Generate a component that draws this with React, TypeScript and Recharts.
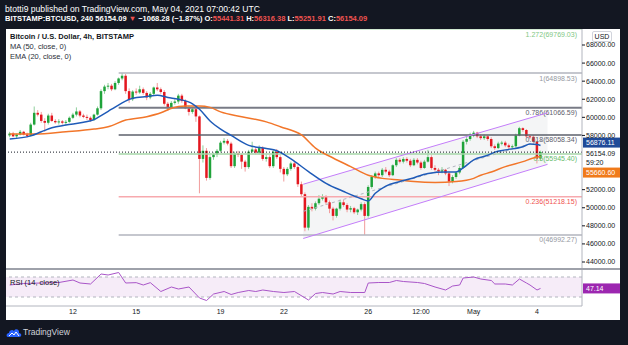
import React from 'react'
import { Area, Bar, ComposedChart, Line, ReferenceArea, ReferenceLine, XAxis, YAxis } from 'recharts'

const FONT = "'Liberation Sans', Arial, sans-serif"
const DARK = '#131722'
const UP = '#1fa33a'
const DOWN = '#e3171f'
const UP_WICK = '#8fcf9c'
const DOWN_WICK = '#f19c9c'
const EMA_COLOR = '#1f5bb8'
const MA_COLOR = '#f2762a'
const RSI_COLOR = '#a955c8'
const CHANNEL_COLOR = '#c47dfa'

// 4h candles from Apr 9 00:00 to May 4 04:00 UTC, prices in thousands of USD
const opens = [
  58.0, 58.2, 57.9, 58.1, 58.4, 58.1,
  57.95, 59.2, 60.5, 60.3, 59.6, 59.4,
  60.2, 59.6, 59.45, 59.55, 59.4, 59.5,
  59.95, 60.3, 60.65, 60.2, 60.05, 59.95,
  59.7, 60.3, 61.0, 62.9, 63.4, 63.5,
  63.1, 63.8, 64.3, 64.6, 62.9, 62.0,
  62.85, 62.75, 63.1, 62.7, 62.2, 62.6,
  63.3, 63.1, 62.8, 61.5, 61.0, 61.6,
  61.75, 62.4, 61.8, 61.0, 60.6, 60.9,
  60.1, 55.4, 56.3, 53.3, 55.6, 55.9,
  56.3, 57.2, 57.4, 57.1, 54.6, 56.0,
  55.85, 55.1, 54.5, 56.2, 56.45, 56.1,
  56.6, 55.4, 55.6, 54.6, 56.2, 55.6,
  54.3, 53.7, 54.3, 54.9, 54.5, 52.6,
  51.5, 47.8, 50.1, 49.9, 50.5, 51.0,
  51.3, 50.6, 49.9, 49.1, 49.9, 50.6,
  50.3, 49.8, 49.95, 49.5, 49.8, 50.4,
  49.1, 52.3, 53.4, 53.8, 53.6, 54.2,
  54.0, 53.6, 54.7, 55.3, 55.1, 55.4,
  55.2, 54.7, 55.3, 55.0, 54.4, 55.1,
  55.6, 54.4, 54.2, 54.0, 54.2, 53.8,
  52.9, 53.4, 53.9, 54.4, 57.3, 57.6,
  58.0, 58.3, 57.9, 57.7, 57.9, 57.6,
  56.8, 56.6, 57.1, 57.2, 56.9, 56.7,
  56.8, 58.0, 58.8, 58.6, 57.9, 57.85,
  57.3, 55.441,
]
const highs = [
  58.4, 58.4, 58.2, 58.6, 58.5, 58.3,
  59.4, 61.2, 60.8, 60.6, 59.9, 60.4,
  60.5, 59.8, 59.8, 59.7, 59.7, 60.1,
  60.5, 61.1, 60.8, 60.4, 60.3, 60.1,
  60.4, 61.2, 63.1, 63.6, 63.8, 63.7,
  64.0, 64.4, 64.9, 64.8, 63.2, 63.0,
  63.2, 63.5, 63.3, 62.9, 62.8, 63.4,
  63.8, 63.3, 63.0, 61.7, 61.8, 62.0,
  62.6, 62.6, 62.0, 61.3, 61.1, 61.1,
  60.2, 56.9, 56.6, 55.8, 56.1, 56.5,
  57.4, 57.7, 57.6, 57.3, 56.2, 56.3,
  56.0, 55.3, 56.4, 57.3, 56.7, 56.9,
  56.8, 55.9, 55.8, 56.4, 56.5, 55.8,
  54.5, 54.5, 55.1, 55.2, 54.7, 52.9,
  51.7, 50.3, 50.5, 50.7, 51.4, 51.5,
  51.4, 50.8, 50.1, 50.0, 50.9, 50.9,
  50.5, 50.2, 50.1, 49.9, 50.6, 50.6,
  52.5, 53.6, 54.0, 54.0, 54.4, 54.5,
  54.2, 54.8, 55.5, 55.5, 55.6, 55.6,
  55.4, 55.5, 55.5, 55.2, 55.3, 56.4,
  55.8, 54.7, 54.4, 54.5, 54.3, 54.0,
  53.6, 54.0, 54.6, 57.5, 57.9, 58.3,
  58.5, 58.4, 58.1, 58.1, 58.0, 57.8,
  57.0, 57.3, 57.4, 57.4, 57.1, 57.0,
  58.2, 58.95, 58.9, 58.7, 58.1, 58.0,
  57.4, 56.316,
]
const lows = [
  57.8, 57.8, 57.7, 58.0, 58.0, 57.8,
  57.9, 59.1, 60.1, 59.4, 58.4, 59.2,
  59.5, 59.3, 59.2, 59.2, 59.1, 59.4,
  59.8, 60.1, 60.0, 59.9, 59.7, 59.5,
  59.6, 60.2, 60.8, 62.6, 63.1, 62.9,
  63.0, 63.6, 64.1, 62.6, 61.6, 61.8,
  62.5, 62.6, 62.5, 61.9, 62.0, 62.4,
  62.9, 62.6, 61.3, 60.7, 60.9, 61.4,
  61.5, 61.6, 60.9, 60.2, 60.4, 59.5,
  51.6, 55.0, 53.0, 53.1, 55.3, 55.6,
  56.1, 57.0, 56.9, 54.4, 54.4, 55.6,
  54.3, 54.0, 54.3, 56.0, 55.9, 55.9,
  55.2, 55.1, 54.4, 54.4, 55.4, 53.9,
  52.9, 53.5, 54.1, 54.3, 52.3, 51.3,
  47.4, 47.5, 49.6, 49.7, 50.3, 50.8,
  50.3, 49.4, 48.6, 48.9, 49.7, 50.1,
  49.5, 49.5, 49.3, 49.2, 49.6, 47.0,
  48.9, 52.1, 53.2, 53.3, 53.4, 53.8,
  53.4, 53.5, 54.5, 54.9, 54.9, 55.0,
  54.5, 54.6, 54.8, 54.2, 54.3, 55.0,
  54.2, 54.0, 53.6, 53.8, 53.6, 52.4,
  52.7, 53.2, 53.7, 54.3, 57.0, 57.4,
  57.8, 57.7, 57.5, 57.5, 57.4, 56.6,
  56.4, 56.5, 56.9, 56.7, 56.5, 56.5,
  56.6, 57.9, 58.4, 57.7, 57.6, 57.1,
  54.9, 55.252,
]
const closes = [
  58.2, 57.9, 58.1, 58.4, 58.1, 57.95,
  59.2, 60.5, 60.3, 59.6, 59.4, 60.2,
  59.6, 59.45, 59.55, 59.4, 59.5, 59.95,
  60.3, 60.65, 60.2, 60.05, 59.95, 59.7,
  60.3, 61.0, 62.9, 63.4, 63.5, 63.1,
  63.8, 64.3, 64.6, 62.9, 62.0, 62.85,
  62.75, 63.1, 62.7, 62.2, 62.6, 63.3,
  63.1, 62.8, 61.5, 61.0, 61.6, 61.75,
  62.4, 61.8, 61.0, 60.6, 60.9, 60.1,
  55.4, 56.3, 53.3, 55.6, 55.9, 56.3,
  57.2, 57.4, 57.1, 54.6, 56.0, 55.85,
  55.1, 54.5, 56.2, 56.45, 56.1, 56.6,
  55.4, 55.6, 54.6, 56.2, 55.6, 54.3,
  53.7, 54.3, 54.9, 54.5, 52.6, 51.5,
  47.8, 50.1, 49.9, 50.5, 51.0, 51.3,
  50.6, 49.9, 49.1, 49.9, 50.6, 50.3,
  49.8, 49.95, 49.5, 49.8, 50.4, 49.1,
  52.3, 53.4, 53.8, 53.6, 54.2, 54.0,
  53.6, 54.7, 55.3, 55.1, 55.4, 55.2,
  54.7, 55.3, 55.0, 54.4, 55.1, 55.6,
  54.4, 54.2, 54.0, 54.2, 53.8, 52.9,
  53.4, 53.9, 54.4, 57.3, 57.6, 58.0,
  58.3, 57.9, 57.7, 57.9, 57.6, 56.8,
  56.6, 57.1, 57.2, 56.9, 56.7, 56.8,
  58.0, 58.8, 58.6, 57.9, 57.85, 57.3,
  55.441, 56.154,
]

// indicator lines: [candle index, value]
const emaPoints: [number, number][] = [
  [0, 57.6], [6, 57.95], [9, 58.4], [12, 58.85], [16, 59.15], [21, 59.45], [24, 59.75],
  [26, 60.2], [29, 60.9], [32, 61.6], [35, 62.1], [39, 62.3], [42, 62.45], [45, 62.2],
  [48, 62.0], [52, 61.5], [54, 60.9], [57, 59.6], [60, 58.7], [63, 58.0], [68, 56.9],
  [73, 56.55], [76, 56.3], [80, 55.4], [85, 54.0], [90, 52.7], [95, 51.8], [100, 51.0],
  [102, 50.75], [104, 51.6], [107, 52.4], [111, 52.9], [114, 53.2], [119, 53.8],
  [124, 53.95], [127, 53.95], [129, 54.4], [132, 55.3], [136, 55.8], [138, 56.15],
  [141, 56.4], [146, 56.75], [148, 57.05], [150, 57.0], [151, 56.88],
]
const maPoints: [number, number][] = [
  [0, 58.15], [7, 58.15], [16, 58.4], [24, 58.7], [28, 58.96], [33, 59.7], [39, 60.07],
  [43, 60.5], [46, 61.0], [50, 61.25], [54, 61.25], [57, 61.1], [60, 60.6], [66, 60.07],
  [73, 59.5], [77, 58.96], [83, 58.05], [87, 56.6], [92, 55.5], [97, 54.55], [102, 53.6],
  [106, 53.25], [111, 53.07], [115, 52.9], [121, 52.8], [127, 52.9], [132, 53.25],
  [134, 53.6], [137, 53.95], [141, 54.55], [146, 55.1], [149, 55.5], [151, 55.66],
]
const rsiPoints: [number, number][] = [
  [0, 54], [4, 57], [9, 58], [14, 59], [18, 64], [20, 58], [23, 56], [26, 76], [28, 74],
  [31, 79], [33, 58], [36, 58.7], [38, 54], [40, 58.7], [43, 41], [46, 50], [48, 46],
  [51, 50], [54, 28], [56, 23], [58, 36], [61, 41], [63, 35], [65, 39], [68, 43], [70, 41],
  [72, 44], [75, 41], [78, 39], [81, 41], [85, 24], [87, 37], [89, 39], [92, 36], [94, 41],
  [97, 39], [101, 39], [102, 58], [105, 59], [108, 59], [110, 63], [112, 61], [116, 59],
  [118, 57], [121, 50], [124, 44], [126, 52], [128, 54], [129, 68], [132, 70], [134, 66],
  [137, 63], [138, 56], [141, 56], [143, 54], [145, 66], [147, 58], [148, 54], [150, 44],
  [151, 47.14],
]

const fibStart = 31
const fibLevels = [
  { ratio: '1.272', price: 69769.03, line: '#a5d6a7', text: '#81c784', width: 1 },
  { ratio: '1', price: 64898.53, line: '#b2b5be', text: '#9598a1', width: 1.5 },
  { ratio: '0.786', price: 61066.59, line: '#787b86', text: '#5d606b', width: 2 },
  { ratio: '0.618', price: 58058.34, line: '#5d606b', text: '#5d606b', width: 1.5 },
  { ratio: '0.5', price: 55945.4, line: '#a5d6a7', text: '#66bb6a', width: 1.5 },
  { ratio: '0.236', price: 51218.15, line: '#f7a9ae', text: '#ef5350', width: 1.5 },
  { ratio: '0', price: 46992.27, line: '#b2b5be', text: '#9598a1', width: 1.5 },
]

// parallel channel drawing
const channelStart = 83.5
const channelEnd = 153
const channelUpper = [52600, 60500]
const channelLower = [46600, 54800]

// 54000 and 56000 sit under the price labels on the axis
const priceTicks = [44000, 46000, 48000, 50000, 52000, 58000, 60000, 62000, 64000, 66000, 68000]
const priceDomain = [43226, 69770]
const xDomain = [-1.05, 162.8]
const timeTicks = [18, 36, 60, 78, 102, 117, 132, 150]
const timeLabels = ['12', '15', '19', '22', '26', '12:00', 'May', '4']

const lastPrice = 56154.09
const countdown = '59:20'
const emaLast = 56876.11
const maLast = 55660.6
const rsiLast = 47.14

const K = 1000
const rows: any[] = closes.map((c, i) => ({ i, o: opens[i] * K, h: highs[i] * K, l: lows[i] * K, c: c * K }))
emaPoints.forEach(([i, v]) => { rows[i].ema = v * K })
maPoints.forEach(([i, v]) => { rows[i].ma = v * K })
rows.push({ i: channelStart, band: [channelLower[0], channelUpper[0]] })
rows.push({ i: channelEnd, band: [channelLower[1], channelUpper[1]] })
rows.sort((a, b) => a.i - b.i)

const rsiRows = rsiPoints.map(([i, v]) => ({ i, v }))

function Candle(props: any) {
  const { x, y, width, height, payload } = props
  if (!payload || payload.o == null) return <g />
  const { o, h, l, c } = payload
  const top = Math.min(y, y + height)
  const bot = Math.max(y, y + height)
  const k = h === l ? 0 : (bot - top) / (h - l)
  const py = (p: number) => top + (h - p) * k
  const cx = x + width / 2
  const up = c >= o
  const bTop = py(Math.max(o, c))
  const bH = Math.max(1, py(Math.min(o, c)) - bTop)
  return (
    <g>
      <line x1={cx} x2={cx} y1={top} y2={bot} stroke={up ? UP_WICK : DOWN_WICK} strokeWidth={1} />
      <rect x={cx - 1.25} y={bTop} width={2.5} height={bH} fill={up ? UP : DOWN} />
    </g>
  )
}

const fibLabel = (text: string, color: string) => (props: any) => {
  const vb = props.viewBox || {}
  return (
    <text x={vb.x + vb.width - 5} y={vb.y + 7.5} textAnchor="end" fontSize={7} fontFamily={FONT} fill={color}>
      {text}
    </text>
  )
}

const axisBox = (lines: string[], bg: string, fg: string, dy: number) => (props: any) => {
  const vb = props.viewBox || {}
  const x0 = vb.x + vb.width
  const h = 9 * lines.length + 1
  const y0 = vb.y + dy - 5
  return (
    <g>
      <rect x={x0 + 1} y={y0} width={37} height={h} fill={bg} />
      {lines.map((t, k) => (
        <text key={t} x={x0 + 4} y={y0 + 7.5 + k * 9} fontSize={7} fontFamily={FONT} fill={fg}>{t}</text>
      ))}
    </g>
  )
}

const txt = (c: string): React.CSSProperties => ({ color: c })

export default function App() {
  return (
    <div style={{ position: 'absolute', left: 0, top: 0, width: 628, height: 345, background: DARK, fontFamily: FONT, overflow: 'hidden' }}>
      <div style={{ position: 'absolute', left: 5, top: 3, fontSize: 8.6, lineHeight: '12px', color: '#ffffff', whiteSpace: 'nowrap' }}>
        btotti9 published on TradingView.com, May 04, 2021 07:00:42 UTC
      </div>
      <div style={{ position: 'absolute', left: 5, top: 13, fontSize: 7.5, lineHeight: '11px', color: '#ffffff', fontWeight: 700, whiteSpace: 'nowrap' }}>
        BITSTAMP:BTCUSD, 240 56154.09 <span style={txt('#ef5350')}>▼</span> −1068.28 (−1.87%) O:<span style={txt('#ef5350')}>55441.31</span> H:<span style={txt('#ef5350')}>56316.38</span> L:<span style={txt('#ef5350')}>55251.91</span> C:<span style={txt('#ef5350')}>56154.09</span>
      </div>

      <div style={{ position: 'absolute', left: 6, top: 29, width: 614, height: 291, background: '#ffffff' }} />

      <div style={{ position: 'absolute', left: 0, top: 29 }}>
        <ComposedChart width={628} height={240} data={rows} margin={{ top: 0, right: 8, bottom: 0, left: 6 }}>
          <XAxis type="number" dataKey="i" domain={xDomain} allowDataOverflow hide />
          <YAxis orientation="right" domain={priceDomain} ticks={priceTicks} allowDataOverflow width={38}
            tickFormatter={(v: number) => v.toFixed(2)} tick={{ fontSize: 7, fill: DARK, fontFamily: FONT }}
            tickSize={3} tickMargin={1} axisLine={{ stroke: '#b2b5be' }} tickLine={{ stroke: DARK }} />
          <Area dataKey={(d: any) => d.band ?? null} type="linear" connectNulls stroke="none"
            fill="#787b86" fillOpacity={0.08} isAnimationActive={false} />
          {fibLevels.map(f => (
            <ReferenceLine key={f.ratio} segment={[{ x: fibStart, y: f.price }, { x: xDomain[1], y: f.price }]}
              stroke={f.line} strokeWidth={f.width} ifOverflow="visible"
              label={fibLabel(`${f.ratio}(${f.price.toFixed(2)})`, f.text)} />
          ))}
          <ReferenceLine segment={[{ x: channelStart, y: channelUpper[0] }, { x: channelEnd, y: channelUpper[1] }]}
            stroke={CHANNEL_COLOR} strokeWidth={1} ifOverflow="visible" />
          <ReferenceLine segment={[{ x: channelStart, y: channelLower[0] }, { x: channelEnd, y: channelLower[1] }]}
            stroke={CHANNEL_COLOR} strokeWidth={1} ifOverflow="visible" />
          <ReferenceLine segment={[
            { x: channelStart, y: (channelUpper[0] + channelLower[0]) / 2 },
            { x: channelEnd, y: (channelUpper[1] + channelLower[1]) / 2 },
          ]} stroke="#b2b5be" strokeWidth={1} strokeDasharray="3 3" ifOverflow="visible" />
          <Bar dataKey={(d: any) => (d.o == null ? null : [d.l, d.h])} shape={Candle} barSize={3} isAnimationActive={false} />
          <Line dataKey="ma" type="monotone" connectNulls dot={false} stroke={MA_COLOR} strokeWidth={1.5} isAnimationActive={false} />
          <Line dataKey="ema" type="monotone" connectNulls dot={false} stroke={EMA_COLOR} strokeWidth={1.5} isAnimationActive={false} />
          <ReferenceLine y={lastPrice} stroke={DARK} strokeDasharray="1 2" strokeWidth={1} />
          <ReferenceLine y={emaLast} stroke="none" label={axisBox([emaLast.toFixed(2)], '#1f4a98', '#ffffff', -3)} />
          <ReferenceLine y={lastPrice} stroke="none" label={axisBox([lastPrice.toFixed(2), countdown], '#ffffff', DARK, 1)} />
          <ReferenceLine y={maLast} stroke="none" label={axisBox([maLast.toFixed(2)], '#f07a1a', '#ffffff', 16)} />
        </ComposedChart>
      </div>

      <div style={{ position: 'absolute', left: 10, top: 32, fontSize: 7.5, lineHeight: '10px', color: DARK }}>
        <div style={{ fontWeight: 700 }}>Bitcoin / U.S. Dollar, 4h, BITSTAMP</div>
        <div style={{ color: '#2a2e39' }}>MA (50, close, 0)</div>
        <div style={{ color: '#2a2e39' }}>EMA (20, close, 0)</div>
      </div>
      <div style={{ position: 'absolute', left: 592, top: 31, width: 18, height: 9, border: '1px solid #d1d4dc', borderRadius: 2, fontSize: 7, lineHeight: '9px', textAlign: 'center', color: DARK, background: '#ffffff' }}>
        USD
      </div>

      <div style={{ position: 'absolute', left: 6, top: 268, width: 614, height: 2, background: '#9ea1aa' }} />

      <div style={{ position: 'absolute', left: 0, top: 270 }}>
        <ComposedChart width={628} height={50} data={rsiRows} margin={{ top: 0, right: 8, bottom: 0, left: 6 }}>
          <XAxis type="number" dataKey="i" domain={xDomain} allowDataOverflow ticks={timeTicks} interval={0}
            tickFormatter={(v: number) => timeLabels[timeTicks.indexOf(v)]} height={14} tickLine={false}
            tickSize={2} tickMargin={1} axisLine={{ stroke: '#b2b5be' }} tick={{ fontSize: 7, fill: DARK, fontFamily: FONT }} />
          <YAxis orientation="right" domain={[12, 84]} ticks={[80]} allowDataOverflow width={38}
            tickFormatter={(v: number) => v.toFixed(2)} tick={{ fontSize: 7, fill: DARK, fontFamily: FONT }}
            tickSize={3} tickMargin={1} axisLine={{ stroke: '#b2b5be' }} tickLine={{ stroke: DARK }} />
          <ReferenceArea y1={30} y2={70} fill="#9c27b0" fillOpacity={0.09} stroke="none" />
          <ReferenceLine y={70} stroke="#b2b5be" strokeDasharray="3 3" />
          <ReferenceLine y={30} stroke="#b2b5be" strokeDasharray="3 3" />
          <Line dataKey="v" type="linear" dot={false} stroke={RSI_COLOR} strokeWidth={1} isAnimationActive={false} />
          <ReferenceLine y={rsiLast} stroke="none" label={axisBox([rsiLast.toFixed(2)], '#9c27b0', '#ffffff', 0)} />
        </ComposedChart>
      </div>
      <div style={{ position: 'absolute', left: 10, top: 278, fontSize: 7.5, lineHeight: '10px', color: DARK }}>
        RSI (14, close)
      </div>

      <svg style={{ position: 'absolute', left: 6, top: 326 }} width={16} height={12}>
        <path d="M2 11 C0 11 0 7 3 7 C3 4 7 3 8 5 C9 2 14 3 13 7 C16 7 16 11 13 11 Z" fill="#2962ff" />
        <path d="M3 10 L6 7 L8 9 L10 6 L13 10" stroke="#ffffff" strokeWidth={1} fill="none" />
      </svg>
      <div style={{ position: 'absolute', left: 23, top: 327, fontSize: 8.5, lineHeight: '10px', color: '#d1d4dc' }}>
        TradingView
      </div>
    </div>
  )
}
